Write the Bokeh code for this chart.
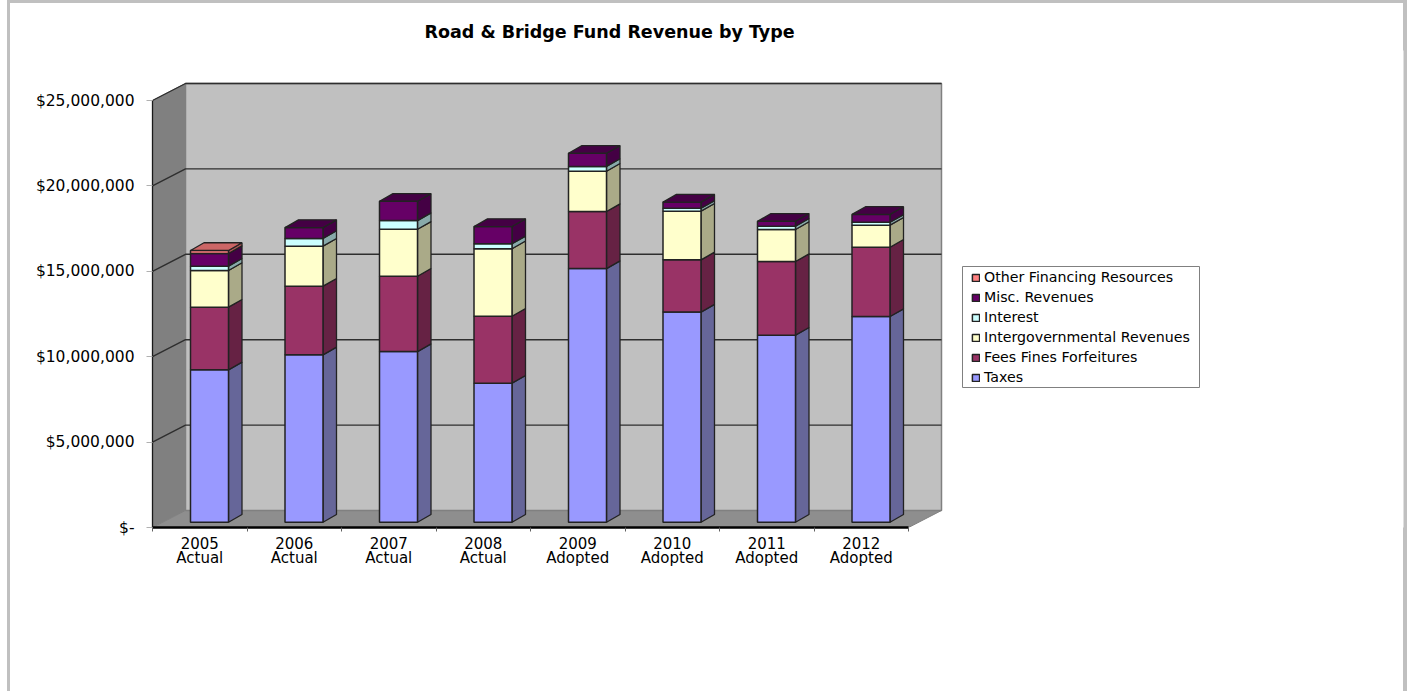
from bokeh.plotting import figure
from bokeh.models import (Range1d, LinearAxis, FixedTicker, NumeralTickFormatter, Legend,
                          LegendItem, ColumnDataSource)
from bokeh.embed import file_html
from bokeh.resources import INLINE

years = ["2005\nActual", "2006\nActual", "2007\nActual", "2008\nActual",
         "2009\nAdopted", "2010\nAdopted", "2011\nAdopted", "2012\nAdopted"]
taxes = [8.92e6, 9.80e6, 9.99e6, 8.14e6, 14.85e6, 12.30e6, 10.95e6, 12.04e6]
fees = [3.67e6, 4.02e6, 4.41e6, 3.92e6, 3.34e6, 3.06e6, 4.31e6, 4.06e6]
intergov = [2.15e6, 2.34e6, 2.75e6, 3.95e6, 2.36e6, 2.85e6, 1.88e6, 1.29e6]
interest = [0.25e6, 0.45e6, 0.51e6, 0.29e6, 0.28e6, 0.17e6, 0.19e6, 0.17e6]
misc = [0.74e6, 0.64e6, 1.13e6, 1.01e6, 0.77e6, 0.36e6, 0.29e6, 0.46e6]
other = [0.18e6, 0, 0, 0, 0, 0, 0, 0]
y_ticks = [0, 5e6, 10e6, 15e6, 20e6, 25e6]

series = [
    ("Taxes", taxes, "#9999FF", "#666699", "#666699"),
    ("Fees Fines Forfeitures", fees, "#993366", "#662244", "#662244"),
    ("Intergovernmental Revenues", intergov, "#FFFFCC", "#AAAA88", "#AAAA88"),
    ("Interest", interest, "#CCFFFF", "#88AAAA", "#88AAAA"),
    ("Misc. Revenues", misc, "#660066", "#440044", "#440044"),
    ("Other Financing Resources", other, "#FF8080", "#AA5555", "#CC6666"),
]

# layout, in screen pixels
PX_X, PX_Y = 94.5, 85.4 / 5e6
AX_L, AX_B, F_TOP, F_R = 152, 527, 50, 1403
W, H = 1407, 691
WALL_DX, WALL_DY = 33 / PX_X, 17 / PX_Y
BAR_L, BAR_W = 38 / PX_X, 38 / PX_X
BAR_DX, BAR_DY = 13.5 / PX_X, 7.7 / PX_Y
BAR_Y0 = 5.3 / PX_Y
N = len(years)
FONT = "DejaVu Sans"
FS_X = "15px"
FS_Y = "15.5px"
FS_LEG = "14.2px"

frame_css = {
    "background-color": "white",
    "background-image": "linear-gradient(#C0C0C0,#C0C0C0),linear-gradient(#C0C0C0,#C0C0C0),linear-gradient(#C0C0C0,#C0C0C0)",
    "background-size": "3px 100%,100% 3px,4px 100%",
    "background-position": "7px 0,7px 0,1403px 0",
    "background-repeat": "no-repeat",
}

p = figure(width=W, height=H, output_backend="svg", toolbar_location=None,
           x_range=Range1d(0, (F_R - AX_L) / PX_X), y_range=Range1d(0, (AX_B - F_TOP) / PX_Y),
           x_axis_type=None, y_axis_type=None, min_border_left=AX_L, min_border_right=W - F_R,
           min_border_bottom=H - AX_B, min_border_top=F_TOP, margin=(0, 0, 0, 0),
           outline_line_color=None, background_fill_color="white", border_fill_alpha=0, styles=frame_css)
p.grid.visible = False

p.title.text = "Road & Bridge Fund Revenue by Type"
p.title.align = "left"
p.title.offset = 272
p.title.text_font = FONT
p.title.text_font_size = "17.5px"
p.title.text_font_style = "bold"
p.title.text_color = "black"
p.title.standoff = 17

ytop = max(y_ticks)
# walls
p.patch([0, WALL_DX, WALL_DX, 0], [0, WALL_DY, ytop + WALL_DY, ytop],
        fill_color="#808080", line_color="#808080")
p.patch([0, N, N + WALL_DX, WALL_DX], [0, 0, WALL_DY, WALL_DY],
        fill_color="#8E8E8E", line_color="#808080")
p.patch([WALL_DX, N + WALL_DX, N + WALL_DX, WALL_DX],
        [WALL_DY, WALL_DY, ytop + WALL_DY, ytop + WALL_DY],
        fill_color="#C0C0C0", line_color="#808080", line_width=1.5)
# gridlines
p.multi_line([[0, WALL_DX, N + WALL_DX] for t in y_ticks[1:]],
             [[t, t + WALL_DY, t + WALL_DY] for t in y_ticks[1:]],
             line_color="#2E2E2E", line_width=1.4)

# stacked pseudo-3D bars
legend_items = {}
base = [BAR_Y0] * N
for name, vals, front, side, top in series:
    idx = [i for i in range(N) if vals[i] > 0]
    left = [i + BAR_L for i in idx]
    right = [i + BAR_L + BAR_W for i in idx]
    bottom = [base[i] for i in idx]
    upper = [base[i] + vals[i] for i in idx]
    p.patches([[r, r + BAR_DX, r + BAR_DX, r] for r in right],
              [[b, b + BAR_DY, u + BAR_DY, u] for b, u in zip(bottom, upper)],
              fill_color=side, line_color="#222222", line_width=1.3)
    src = ColumnDataSource(dict(left=left, right=right, bottom=bottom, top=upper))
    legend_items[name] = p.quad(left="left", right="right", bottom="bottom", top="top", source=src,
                                fill_color=front, line_color="#222222", line_width=1.5)
    base = [b + v for b, v in zip(base, vals)]

# bar lids: each bar is closed by its topmost non-empty series
for k, (name, vals, front, side, top) in enumerate(series):
    idx = [i for i in range(N) if vals[i] > 0 and not any(s[1][i] > 0 for s in series[k + 1:])]
    if idx:
        p.patches([[i + BAR_L, i + BAR_L + BAR_DX, i + BAR_L + BAR_W + BAR_DX, i + BAR_L + BAR_W] for i in idx],
                  [[base[i], base[i] + BAR_DY, base[i] + BAR_DY, base[i]] for i in idx],
                  fill_color=top, line_color="#222222", line_width=1.3)

# axes
yax = LinearAxis(ticker=FixedTicker(ticks=y_ticks), formatter=NumeralTickFormatter(format="$0,0"),
                 major_label_overrides={0: "$-"}, bounds=(0, ytop),
                 axis_line_color="#1A1A1A", axis_line_width=1.3,
                 major_tick_line_color="#B0B0B0", major_tick_out=6, major_tick_in=0,
                 minor_tick_line_color=None, major_label_standoff=12,
                 major_label_text_font=FONT, major_label_text_font_size=FS_Y, major_label_text_color="black")
p.add_layout(yax, "left")

centers = [i + 0.5 for i in range(N)]
xax = LinearAxis(ticker=FixedTicker(ticks=centers, minor_ticks=list(range(N + 1))),
                 major_label_overrides={c: y for c, y in zip(centers, years)}, bounds=(0, N),
                 axis_line_color="black", axis_line_width=2.5,
                 major_tick_line_color=None, minor_tick_line_color="#606060",
                 minor_tick_out=4, minor_tick_in=0, major_label_standoff=1,
                 major_label_text_font=FONT, major_label_text_font_size=FS_X, major_label_text_color="black",
                 major_label_text_line_height=0.8)
p.add_layout(xax, "below")

# legend box and legend
LEG_L, LEG_R, LEG_T, LEG_B = 962, 1199, 266, 387
p.quad(left=[(LEG_L - AX_L) / PX_X], right=[(LEG_R - AX_L) / PX_X],
       bottom=[(AX_B - LEG_B) / PX_Y], top=[(AX_B - LEG_T) / PX_Y],
       fill_color="white", line_color="#808080", line_width=1)
legend = Legend(items=[LegendItem(label=s[0], renderers=[legend_items[s[0]]]) for s in reversed(series)],
                location=(971 - AX_L, AX_B - 385), orientation="vertical",
                padding=9, margin=0, spacing=4, glyph_width=9, glyph_height=9, label_standoff=4,
                label_text_font=FONT, label_text_font_size=FS_LEG, label_text_color="black",
                border_line_color=None, background_fill_alpha=0)
p.add_layout(legend)

open("out.html", "w").write(file_html(p, INLINE))
